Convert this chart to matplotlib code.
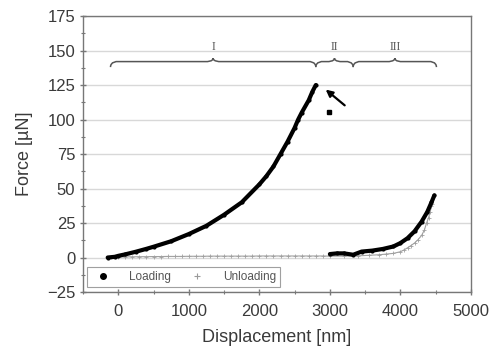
import matplotlib
matplotlib.use("Agg")
import matplotlib.pyplot as plt
from matplotlib.path import Path
from matplotlib.patches import PathPatch
from matplotlib.lines import Line2D
from matplotlib.ticker import MultipleLocator

plt.rcParams['font.family'] = ['Liberation Sans', 'DejaVu Sans']

# ---- data ----
load1_x = [-150, -50, 0, 100, 250, 400, 500, 750, 1000, 1250, 1500, 1750, 2000, 2100, 2200, 2300, 2400, 2500, 2550, 2600, 2700, 2750, 2800]
load1_f = [0, 0.5, 1.2, 2.3, 4.2, 6.3, 7.8, 11.8, 17, 23, 31, 40, 53, 59, 66, 75, 84, 94, 100, 105, 114, 120, 125]

drop_x = [2985]
drop_f = [105.5]

load2_x = [3000, 3100, 3200, 3330, 3450, 3600, 3750, 3900, 4000, 4100, 4200, 4300, 4380, 4440, 4480]
load2_f = [2.5, 3.0, 3.0, 2.0, 4.3, 5.0, 6.2, 8.0, 10.5, 14, 19, 26, 33, 40, 45]

unload_x = [-100, 0, 100, 200, 300, 400, 500, 600, 700, 800, 900, 1000, 1100, 1200, 1300, 1400,
            1500, 1600, 1700, 1800, 1900, 2000, 2100, 2200, 2300, 2400, 2500, 2600, 2700, 2800,
            2900, 3000, 3200, 3400, 3550, 3700, 3800, 3900, 4000, 4050, 4100, 4150, 4200, 4250,
            4300, 4340, 4370, 4400, 4420, 4440, 4450]
unload_f = [0.3, 0.4, 0.5, 0.5, 0.6, 0.6, 0.7, 0.7, 0.8, 0.8, 0.8, 0.9, 0.9, 0.9, 1.0, 1.0,
            1.0, 1.0, 1.0, 1.0, 1.0, 1.1, 1.1, 1.1, 1.1, 1.1, 1.1, 1.1, 1.1, 1.1,
            1.1, 1.0, 1.0, 1.2, 1.6, 2.0, 2.5, 3.0, 4.2, 5.5, 7.0, 8.7, 10.5, 13,
            16, 20, 25, 29, 33, 37, 39]

brace_spans = [(-110, 2800), (2800, 3330), (3330, 4510)]
brace_labels = ['I', 'II', 'III']

series_names = ['Loading', 'Unloading']

# ---- figure ----
fig = plt.figure(figsize=(4.92, 3.49), dpi=100)
ax = fig.add_axes([0.1687, 0.1633, 0.7886, 0.7907])

grey_txt = '#3a3a3a'
ax.set_xlim(-500, 5000)
ax.set_ylim(-25, 175)
ax.yaxis.set_major_locator(MultipleLocator(25))
ax.yaxis.set_minor_locator(MultipleLocator(12.5))
ax.xaxis.set_major_locator(MultipleLocator(1000))
ax.xaxis.set_minor_locator(MultipleLocator(500))
ax.grid(axis='y', color='#d8d8d8', linewidth=1.0)
ax.set_axisbelow(True)
for s in ax.spines.values():
    s.set_color('#777777')
    s.set_linewidth(1.0)
ax.tick_params(axis='both', which='major', labelsize=12, colors='#777777',
               labelcolor=grey_txt, direction='inout', length=5, width=1)
ax.tick_params(axis='x', which='major', pad=6)
ax.tick_params(axis='y', which='major', pad=3)
ax.tick_params(axis='both', which='minor', colors='#777777', direction='inout', length=3, width=0.8)

# unloading (grey crosses)
ax.plot(unload_x, unload_f, color='#a0a0a0', lw=0.8, marker='+', ms=2.5, mew=0.6, zorder=3)
# loading (black dots)
ax.plot(load1_x, load1_f, color='black', lw=3.0, marker='o', ms=2, zorder=4,
        solid_capstyle='round', solid_joinstyle='round')
ax.plot(drop_x, drop_f, color='black', lw=0, marker='s', ms=3.5, zorder=4)
ax.plot(load2_x, load2_f, color='black', lw=3.0, marker='o', ms=2, zorder=4,
        solid_capstyle='round', solid_joinstyle='round')

# braces
def brace(x0, x1, y=142, hook_w=90, hook_h=4, tip_h=2.5):
    xm = (x0 + x1) / 2
    verts = [(x0, y - hook_h), (x0, y), (x0 + hook_w, y), (x0 + hook_w, y),
             (xm - hook_w, y), (xm - hook_w, y), (xm, y), (xm, y + tip_h),
             (xm, y), (xm + hook_w, y), (xm + hook_w, y),
             (x1 - hook_w, y), (x1 - hook_w, y), (x1, y), (x1, y - hook_h)]
    codes = [Path.MOVETO, Path.CURVE4, Path.CURVE4, Path.CURVE4,
             Path.LINETO, Path.CURVE4, Path.CURVE4, Path.CURVE4,
             Path.CURVE4, Path.CURVE4, Path.CURVE4,
             Path.LINETO, Path.CURVE4, Path.CURVE4, Path.CURVE4]
    ax.add_patch(PathPatch(Path(verts, codes), fill=False, edgecolor='#555555', lw=1.1, zorder=5))
    return xm

for (x0, x1), lab in zip(brace_spans, brace_labels):
    xm = brace(x0, x1)
    ax.text(xm, 152.5, lab, ha='center', va='center', fontsize=8.5, color='#555555',
            family=['Liberation Serif', 'DejaVu Serif'])

# arrow
ax.annotate('', xy=(2910, 123), xytext=(3240, 109),
            arrowprops=dict(arrowstyle='-|>', color='black', lw=1.6, mutation_scale=10))

# legend
handles = [Line2D([], [], color='black', marker='o', ls='none', ms=4),
           Line2D([], [], color='#9a9a9a', marker='+', ls='none', ms=4, mew=0.8)]
leg = ax.legend(handles, series_names, loc='lower left', ncol=2,
                bbox_to_anchor=(0.01, 0.018, 0.498, 0.08), mode='expand',
                fontsize=8.5, frameon=True, fancybox=False, borderpad=0.35,
                handletextpad=1.2, labelcolor='#555555', borderaxespad=0)
leg.get_frame().set_edgecolor('#888888')
leg.get_frame().set_linewidth(0.8)

ax.set_xlabel('Displacement [nm]', fontsize=13, color=grey_txt, labelpad=7)
ax.set_ylabel('Force [µN]', fontsize=13, color=grey_txt, labelpad=10)

fig.savefig('out.png', dpi=100)
